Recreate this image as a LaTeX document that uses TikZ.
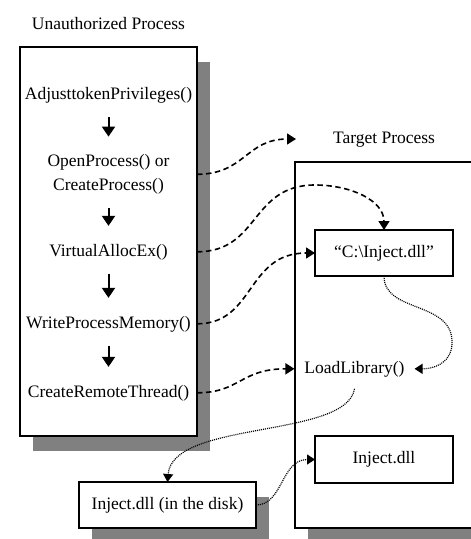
\documentclass[tikz,border=0pt]{standalone}
\usepackage{fontspec}
\setmainfont{Liberation Serif}
\usetikzlibrary{arrows.meta,calc}
\definecolor{shadowgray}{gray}{0.5}
\begin{document}
\begin{tikzpicture}[x=1pt,y=-1pt,
  every node/.style={font=\fontsize{17.5pt}{23.5pt}\selectfont, inner sep=0pt, outer sep=0pt},
  plainbox/.style={draw, line width=1.5pt, fill=white},
  shadowbox/.style={plainbox, preaction={fill=shadowgray, draw=none, transform canvas={xshift=13pt, yshift=-15pt}}},
  txt/.style={anchor=base},
  flow/.style={line width=2pt, -{Triangle[length=10pt,width=13pt]}, shorten <=14pt, shorten >=18pt},
  dashconn/.style={line width=1.6pt, dash pattern=on 5.5pt off 3.5pt, -{Triangle[length=9pt,width=11pt]}},
  dotconn/.style={line width=1.2pt, dash pattern=on 1pt off 1pt, -{Triangle[length=8pt,width=10pt]}}
]
\useasboundingbox (0,0) rectangle (471,539);
\clip (0,0) rectangle (471,539);
\fill[white] (0,0) rectangle (471,539);

% Unauthorized process
\node[txt] (ttl1) at (108.5,29) {Unauthorized Process};
\node[shadowbox, minimum width=177pt, minimum height=389pt, anchor=north west] (lbox) at (20,47) {};
\node[txt] (t1) at (108.5,99) {AdjusttokenPrivileges()};
\node[anchor=north, align=center] (t2) at (108.5,154.6) {OpenProcess() or\\CreateProcess()};
\node[txt] (t3) at (108.5,256) {VirtualAllocEx()};
\node[txt] (t4) at (108.5,328) {WriteProcessMemory()};
\node[txt] (t5) at (108.5,397) {CreateRemoteThread()};

\draw[flow] (t1.south) -- (t2.north);
\draw[flow] (t2.south) -- (t3.north);
\draw[flow] (t3.south) -- (t4.north);
\draw[flow] (t4.south) -- (t5.north);

% Target process
\node[txt] (tp) at (384,143) {Target Process};
\node[shadowbox, minimum width=200pt, minimum height=366pt, anchor=north west] (tbox) at (295,162) {};
\node[plainbox, minimum width=138pt, minimum height=46pt] (cbox) at (384,253) {“C:\textbackslash Inject.dll”};
\node[txt, inner xsep=10pt, inner ysep=12pt] (ll) at (354.5,373) {LoadLibrary()};
\node[plainbox, minimum width=138pt, minimum height=47pt] (ibox) at (384,459.5) {Inject.dll};

% Disk
\node[shadowbox, minimum width=177pt, minimum height=46pt] (disk) at (167.5,505) {Inject.dll (in the disk)};

% dashed connectors
\coordinate (tparr) at (296,139);
\coordinate (peak) at (315,185);
\draw[dashconn] (lbox.east |- t2.center) .. controls +(48,0) and +(-50,0) .. (tparr);
\draw[dashconn] (lbox.east |- t3.center) .. controls +(63,0) and +(-65,0) .. (peak) .. controls +(35,0) and +(0,-30) .. (cbox.north);
\draw[dashconn] (lbox.east |- t4.center) .. controls +(58,0) and +(-69,0) .. (cbox.west);
\draw[dashconn] (lbox.east |- t5.center) .. controls +(43,0) and +(-54,0) .. (ll.west);

% dotted connectors
\coordinate (bend) at (452,345);
\draw[dotconn] (cbox.south) .. controls +(0,38) and +(3,-45) .. (bend) .. controls +(-2,20) and +(17,0) .. (ll.east);
\draw[dotconn] (ll.south) .. controls +(-8,50) and +(5,-62) .. (disk.north);
\draw[dotconn] (disk.east) .. controls +(27,0) and +(-34,0) .. (ibox.west);
\end{tikzpicture}
\end{document}
